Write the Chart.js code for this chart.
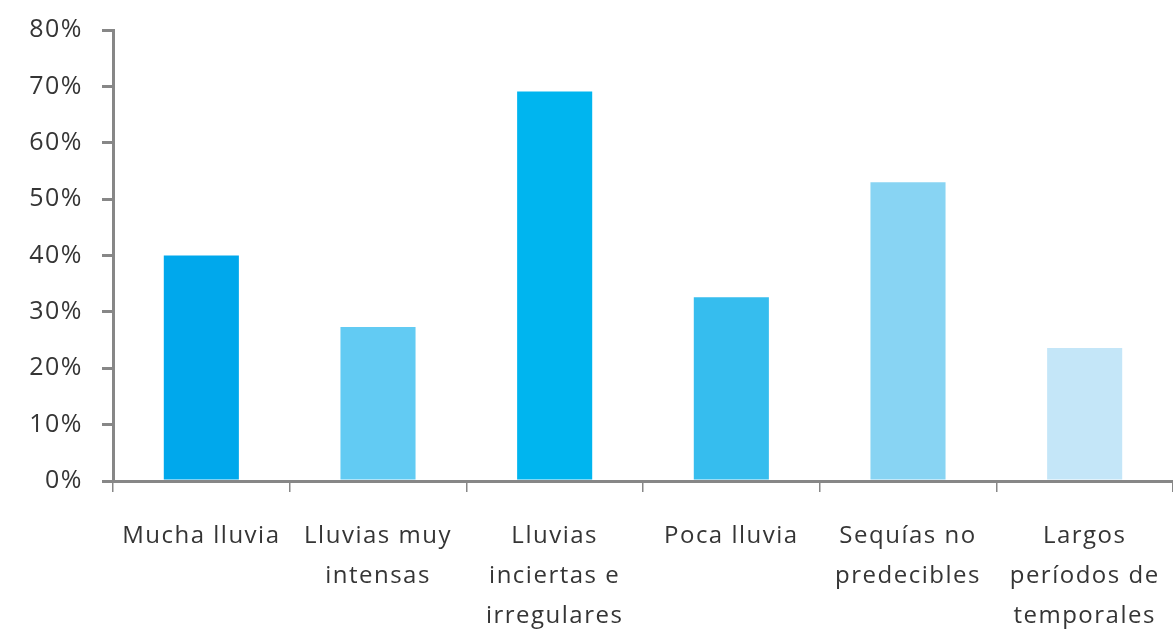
<!DOCTYPE html>
<html lang="es">
<head>
<meta charset="utf-8">
<title>Percepción de cambios en la lluvia</title>
<script src="https://cdn.jsdelivr.net/npm/chart.js@4/dist/chart.umd.min.js"></script>
<style>
    html, body { margin: 0; padding: 0; background: #fff; }
    #wrap { width: 1173px; height: 633px; position: relative; }
</style>
</head>
<body>
<div id="wrap"><canvas id="lluviaChart"></canvas></div>
<script>
// Categorías (cada una partida en líneas como en el eje)
const categorias = [
    ['Mucha lluvia'],
    ['Lluvias muy', 'intensas'],
    ['Lluvias', 'inciertas e', 'irregulares'],
    ['Poca lluvia'],
    ['Sequías no', 'predecibles'],
    ['Largos', 'períodos de', 'temporales']
];

// Porcentaje de respuestas por categoría
const porcentajes = [40, 27.3, 69.1, 32.6, 53, 23.6];

// Un tono de azul para cada barra
const coloresBarras = ['#00a8ec', '#62cbf3', '#00b5ef', '#36bdee', '#88d4f3', '#c4e6f8'];

const ejeMin = 0;
const ejeMax = 80;
const ejePaso = 10;

const colorEje = '#878787';
const colorTexto = '#353535';
const fuente = "'Open Sans', 'DejaVu Sans', sans-serif";

// Texto algo más espaciado (el contexto se reinicia al redimensionar, así que se fija en cada pasada)
const espaciadoTexto = {
    id: 'espaciadoTexto',
    beforeLayout(chart) { chart.ctx.letterSpacing = '1.5px'; },
    beforeDraw(chart) { chart.ctx.letterSpacing = '1.5px'; }
};

const ctx = document.getElementById('lluviaChart').getContext('2d');
const lluviaChart = new Chart(ctx, {
    type: 'bar',
    data: {
        labels: categorias,
        datasets: [{
            data: porcentajes,
            backgroundColor: coloresBarras,
            borderWidth: 0,
            barPercentage: 1,
            categoryPercentage: 0.425
        }]
    },
    plugins: [espaciadoTexto],
    options: {
        responsive: true,
        maintainAspectRatio: false,
        animation: false,
        layout: {
            padding: { top: 30, right: 0, bottom: 0, left: 0 }
        },
        plugins: {
            legend: { display: false },
            tooltip: { enabled: false }
        },
        scales: {
            x: {
                grid: {
                    display: true,
                    drawOnChartArea: false,
                    drawTicks: true,
                    tickLength: 11,
                    color: colorEje,
                    lineWidth: 1.5,
                    offset: true
                },
                border: { color: colorEje, width: 3 },
                ticks: {
                    color: colorTexto,
                    padding: 24,
                    maxRotation: 0,
                    autoSkip: false,
                    font: { family: fuente, size: 24, lineHeight: 1.67 }
                },
                // el área del gráfico llega hasta el borde derecho
                afterFit: function(scale) {
                    scale.height = 152;
                    scale.paddingLeft = 0;
                    scale.paddingRight = 0;
                }
            },
            y: {
                min: ejeMin,
                max: ejeMax,
                grid: {
                    display: true,
                    drawOnChartArea: false,
                    drawTicks: true,
                    tickLength: 11,
                    color: colorEje,
                    lineWidth: 3
                },
                border: { color: colorEje, width: 3 },
                ticks: {
                    stepSize: ejePaso,
                    color: colorTexto,
                    padding: 19,
                    font: { family: fuente, size: 25 },
                    callback: v => v + '%'
                },
                afterFit: function(scale) {
                    scale.width = 113;
                    scale.paddingTop = 0;
                    scale.paddingBottom = 0;
                }
            }
        }
    }
});
</script>
</body>
</html>
